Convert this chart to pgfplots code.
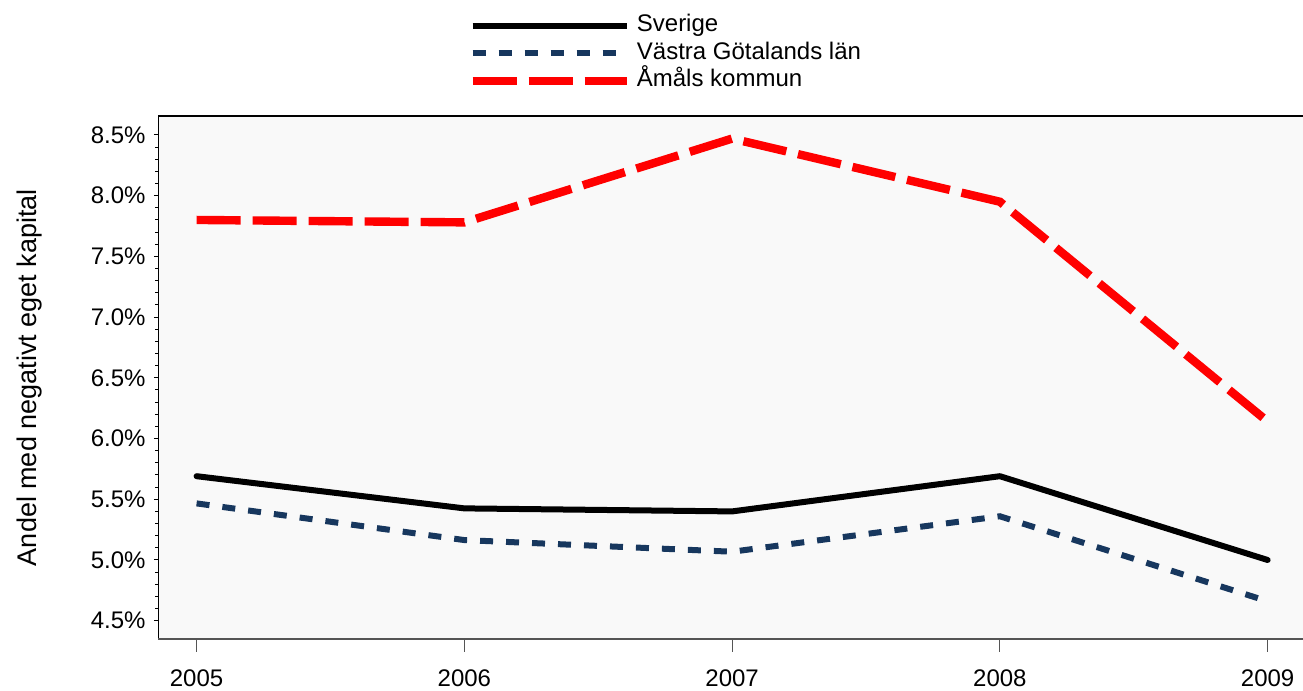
\documentclass[border=0pt]{standalone}
\usepackage{fontspec}
\setmainfont{Liberation Sans}
\usepackage{pgfplots}
\pgfplotsset{compat=1.18}
\definecolor{vgblue}{HTML}{17375E}
\definecolor{bgc}{HTML}{F9F9F9}
\definecolor{axgray}{HTML}{555555}
\begin{document}
\fontsize{12}{14.4}\selectfont
\begin{tikzpicture}
\begin{axis}[
  scale only axis,
  width=572.35pt, height=261.65pt,
  xmin=2004.857, xmax=2009.132,
  ymin=4.347, ymax=8.656,
  axis line style={draw=none},
  axis background/.style={fill=bgc},
  xtick={2005,2006,2007,2008,2009},
  xticklabels={2005,2006,2007,2008,2009},
  ytick={4.5,5,5.5,6,6.5,7,7.5,8,8.5},
  yticklabels={4.5\%,5.0\%,5.5\%,6.0\%,6.5\%,7.0\%,7.5\%,8.0\%,8.5\%},
  minor y tick num=4,
  tick align=outside,
  major tick length=2.2pt, minor tick length=1.5pt,
  xtick pos=bottom, ytick pos=left,
  xtick style={draw=none},
  ytick style={draw=black, line width=0.5pt},
  xticklabel style={font=\fontsize{12}{14.4}\selectfont, yshift=-8.8pt},
  yticklabel style={font=\fontsize{12}{14.4}\selectfont},
  ylabel={Andel med negativt eget kapital},
  every axis y label/.style={at={(axis description cs:-0.1125,0.5)}, rotate=90, anchor=center, font=\fontsize{13.5}{16}\selectfont},
  legend style={draw=none, fill=none, inner sep=0pt, outer sep=0pt,
    at={(rel axis cs:0.2710,1.193)}, anchor=north west,
    row sep=2.75pt, column sep=3pt,
    nodes={inner sep=0pt, text height=8.5pt, text depth=2.5pt, font=\fontsize{12}{14.4}\selectfont}},
  legend cell align=left,
  legend image code/.code={\draw[#1, line cap=butt] (0pt,0pt) -- (77pt,0pt);},
  clip=false,
]
\addplot[black, line width=3pt, line join=round, line cap=round] coordinates {
  (2005,5.69) (2006,5.425) (2007,5.40) (2008,5.69) (2009,5.00)};
\addlegendentry{Sverige}
\addplot[vgblue, line width=3pt, dash pattern=on 6.5pt off 6.5pt] coordinates {
  (2005,5.466) (2006,5.164) (2007,5.068) (2008,5.36) (2009,4.66)};
\addlegendentry{Västra Götalands län}
\addplot[red, line width=4.2pt, dash pattern=on 22pt off 6pt] coordinates {
  (2005,7.80) (2006,7.78) (2007,8.47) (2008,7.95) (2009,6.14)};
\addlegendentry{Åmåls kommun}
\pgfplotsinvokeforeach{2005,2006,2007,2008,2009}{
  \draw[axgray, line width=0.6pt] (axis cs:#1,4.347) -- ++(0pt,-6.5pt);
}
\draw[black, line width=0.6pt] (rel axis cs:0,0) -- (rel axis cs:0,1) -- (rel axis cs:1,1);
\draw[axgray, line width=0.8pt] (rel axis cs:0,0) -- (rel axis cs:1,0);
\end{axis}
\pgfresetboundingbox
\path[use as bounding box] (-79.15pt,-25.85pt) rectangle (572.35pt,319.65pt);
\end{tikzpicture}
\end{document}
